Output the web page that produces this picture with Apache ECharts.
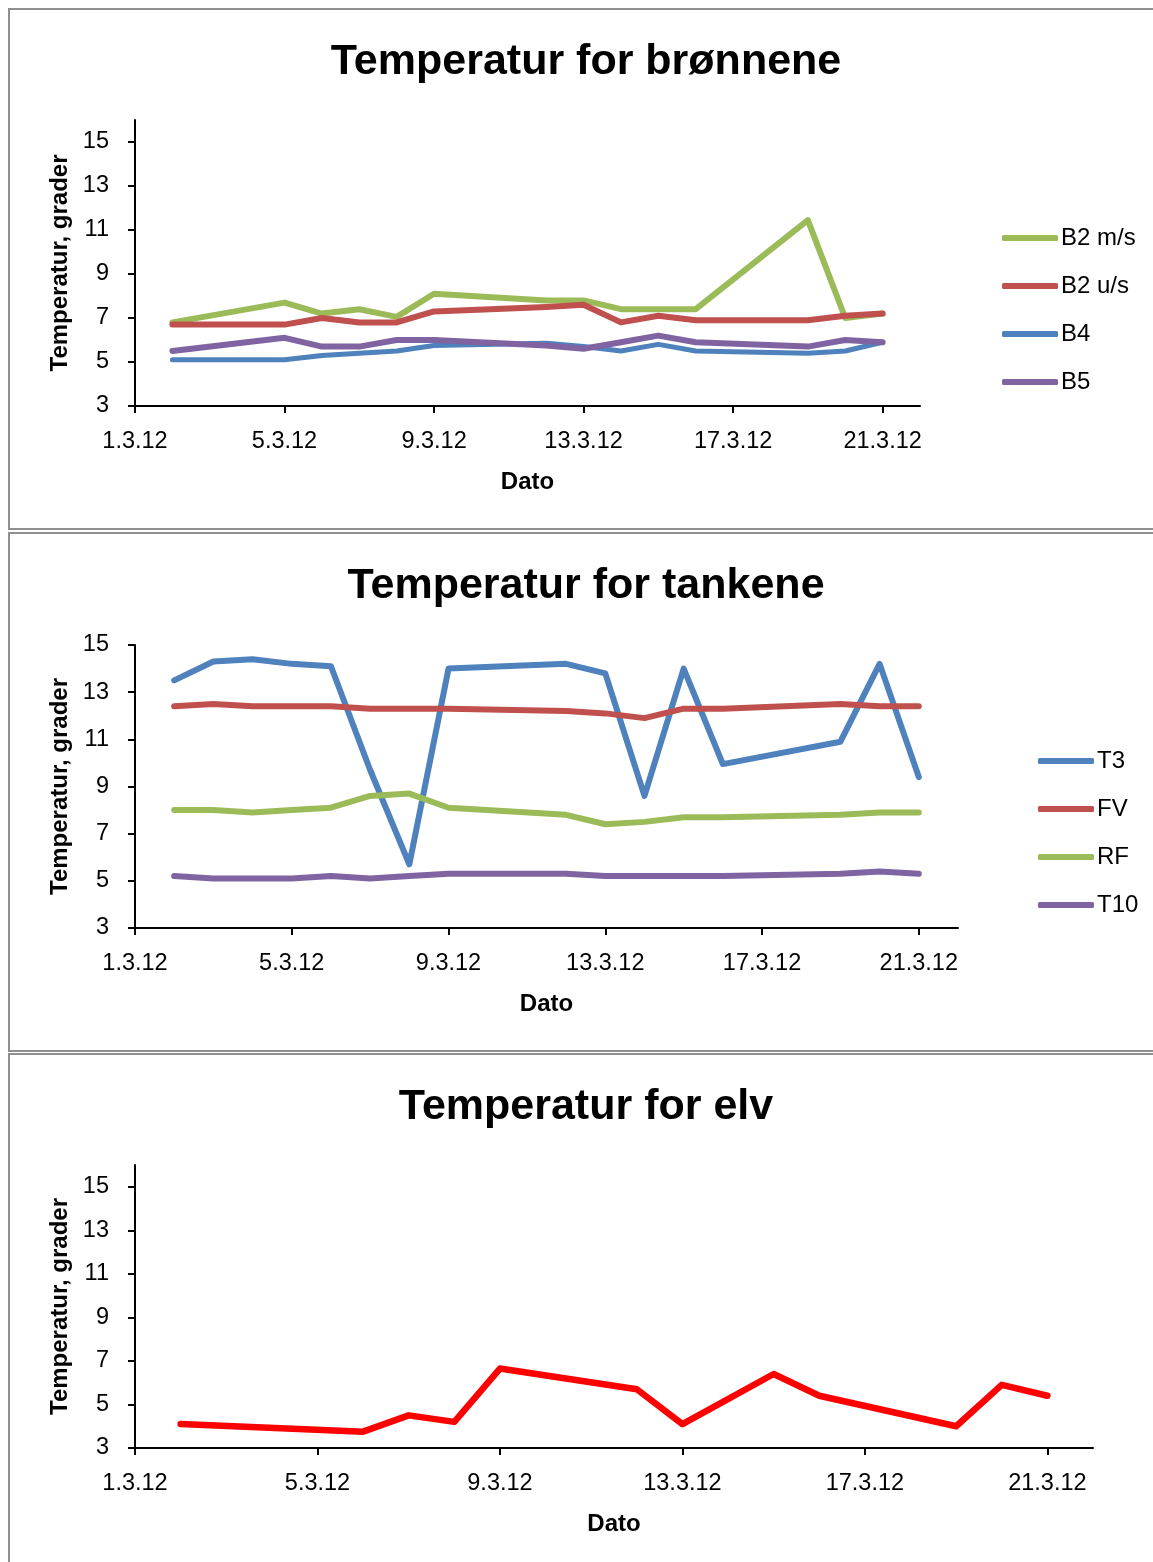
<!DOCTYPE html>
<html>
<head>
<meta charset="utf-8">
<title>Temperatur</title>
<script src="https://cdn.jsdelivr.net/npm/echarts@6/dist/echarts.min.js"></script>
<style>
  html, body { margin: 0; padding: 0; background: #ffffff; }
  #chart { width: 1153px; height: 1562px; }
</style>
</head>
<body>
<div id="chart"></div>
<script>
// Dag i mars 2012 for hver måling
const daysWells = [2, 5, 6, 7, 8, 9, 12, 13, 14, 15, 16, 19, 20, 21];
const b2ms = [6.8, 7.7, 7.2, 7.4, 7.05, 8.1, 7.8, 7.8, 7.4, 7.4, 7.4, 11.45, 7.0, 7.2];
const b2us = [6.7, 6.7, 7.0, 6.8, 6.8, 7.3, 7.5, 7.6, 6.8, 7.1, 6.9, 6.9, 7.1, 7.2];
const b4 = [5.1, 5.1, 5.3, 5.4, 5.5, 5.75, 5.85, 5.7, 5.5, 5.8, 5.5, 5.4, 5.5, 5.9];
const b5 = [5.5, 6.1, 5.7, 5.7, 6.0, 6.0, 5.75, 5.6, 5.9, 6.2, 5.9, 5.7, 6.0, 5.9];

const daysTanks = [2, 3, 4, 5, 6, 7, 8, 9, 12, 13, 14, 15, 16, 19, 20, 21];
const t3 = [13.5, 14.3, 14.4, 14.2, 14.1, 9.7, 5.7, 14.0, 14.2, 13.8, 8.6, 14.0, 9.95, 10.9, 14.2, 9.4];
const fv = [12.4, 12.5, 12.4, 12.4, 12.4, 12.3, 12.3, 12.3, 12.2, 12.1, 11.9, 12.3, 12.3, 12.5, 12.4, 12.4];
const rf = [8.0, 8.0, 7.9, 8.0, 8.1, 8.6, 8.7, 8.1, 7.8, 7.4, 7.5, 7.7, 7.7, 7.8, 7.9, 7.9];
const t10 = [5.2, 5.1, 5.1, 5.1, 5.2, 5.1, 5.2, 5.3, 5.3, 5.2, 5.2, 5.2, 5.2, 5.3, 5.4, 5.3];

const daysRiver = [2, 6, 7, 8, 9, 12, 13, 15, 16, 19, 20, 21];
const elv = [4.1, 3.75, 4.5, 4.2, 6.65, 5.7, 4.1, 6.4, 5.4, 4.0, 5.9, 5.4];

// Aksemerker
const dateTicks = [1, 5, 9, 13, 17, 21];
const tempTicks = [3, 5, 7, 9, 11, 13, 15];

const FONT = '"Liberation Sans", Arial, sans-serif';
const GREEN = '#9BBB59', RED = '#C0504D', BLUE = '#4F81BD', PURPLE = '#8064A2';

const pairs = (days, vals) => days.map((d, i) => [d, vals[i]]);

function xAxis(gridIndex) {
  return {
    type: 'value', gridIndex, min: 1, max: 22,
    name: 'Dato', nameLocation: 'middle', nameGap: 64, nameMoveOverlap: false,
    nameTextStyle: { fontFamily: FONT, fontSize: 24, fontWeight: 'bold', color: '#000' },
    axisLine: { show: true, onZero: false, lineStyle: { color: '#000', width: 2 } },
    axisTick: { show: true, inside: false, length: 7, customValues: dateTicks, lineStyle: { color: '#000', width: 2 } },
    axisLabel: { show: true, margin: 24, customValues: dateTicks, fontFamily: FONT, fontSize: 23.5, color: '#000',
      formatter: v => v + '.3.12' },
    splitLine: { show: false }
  };
}

function yAxis(gridIndex, max) {
  return {
    type: 'value', gridIndex, min: 3, max,
    name: 'Temperatur, grader', nameLocation: 'middle', nameGap: 63, nameRotate: 90, nameMoveOverlap: false,
    nameTextStyle: { fontFamily: FONT, fontSize: 24, fontWeight: 'bold', color: '#000' },
    axisLine: { show: true, onZero: false, lineStyle: { color: '#000', width: 2 } },
    axisTick: { show: true, inside: false, length: 7, customValues: tempTicks, lineStyle: { color: '#000', width: 2 } },
    axisLabel: { show: true, margin: 26, customValues: tempTicks, fontFamily: FONT, fontSize: 23.5, color: '#000' },
    splitLine: { show: false }
  };
}

function line(name, color, days, vals, idx, width) {
  return {
    type: 'line', name, xAxisIndex: idx, yAxisIndex: idx,
    data: pairs(days, vals),
    showSymbol: false, symbol: 'none', smooth: false, animation: false,
    itemStyle: { color },
    lineStyle: { color, width: width || 6, cap: 'round', join: 'round' },
    emphasis: { disabled: true }
  };
}

function legend(names, left, top) {
  return {
    orient: 'vertical', left, top, data: names, padding: 0,
    icon: 'roundRect', itemWidth: 56, itemHeight: 6, itemGap: 24,
    textStyle: { fontFamily: FONT, fontSize: 24, color: '#000', lineHeight: 24, padding: [0, 0, 0, -2] },
    selectedMode: false
  };
}

function title(text, y) {
  return {
    type: 'text', x: 586, y,
    style: { text, fontFamily: FONT, fontSize: 43, fontWeight: 'bold', fill: '#000',
      textAlign: 'center', textVerticalAlign: 'middle' }
  };
}

function frame(y, h) {
  return {
    type: 'rect', shape: { x: 9, y, width: 1170, height: h },
    style: { fill: 'none', stroke: '#8f8f8f', lineWidth: 2 }, silent: true
  };
}

const option = {
  backgroundColor: '#ffffff',
  animation: false,
  grid: [
    { left: 135, top: 120, width: 785, height: 286, containLabel: false, outerBoundsMode: 'none' },
    { left: 135, top: 645, width: 823, height: 283, containLabel: false, outerBoundsMode: 'none' },
    { left: 135, top: 1165, width: 958, height: 283, containLabel: false, outerBoundsMode: 'none' }
  ],
  xAxis: [xAxis(0), xAxis(1), xAxis(2)],
  yAxis: [yAxis(0, 16), yAxis(1, 15), yAxis(2, 16)],
  legend: [
    legend(['B2 m/s', 'B2 u/s', 'B4', 'B5'], 1002, 226),
    legend(['T3', 'FV', 'RF', 'T10'], 1038, 749)
  ],
  graphic: [
    frame(9, 520), frame(533, 518), frame(1054, 600),
    title('Temperatur for brønnene', 62),
    title('Temperatur for tankene', 586),
    title('Temperatur for elv', 1107)
  ],
  series: [
    line('B2 m/s', GREEN, daysWells, b2ms, 0),
    line('B2 u/s', RED, daysWells, b2us, 0),
    line('B4', BLUE, daysWells, b4, 0, 5),
    line('B5', PURPLE, daysWells, b5, 0),
    line('T3', BLUE, daysTanks, t3, 1),
    line('FV', RED, daysTanks, fv, 1),
    line('RF', GREEN, daysTanks, rf, 1),
    line('T10', PURPLE, daysTanks, t10, 1),
    line('Elv', '#FF0000', daysRiver, elv, 2, 6.5)
  ]
};

const chart = echarts.init(document.getElementById('chart'), null, { renderer: 'canvas' });
chart.setOption(option);
</script>
</body>
</html>
